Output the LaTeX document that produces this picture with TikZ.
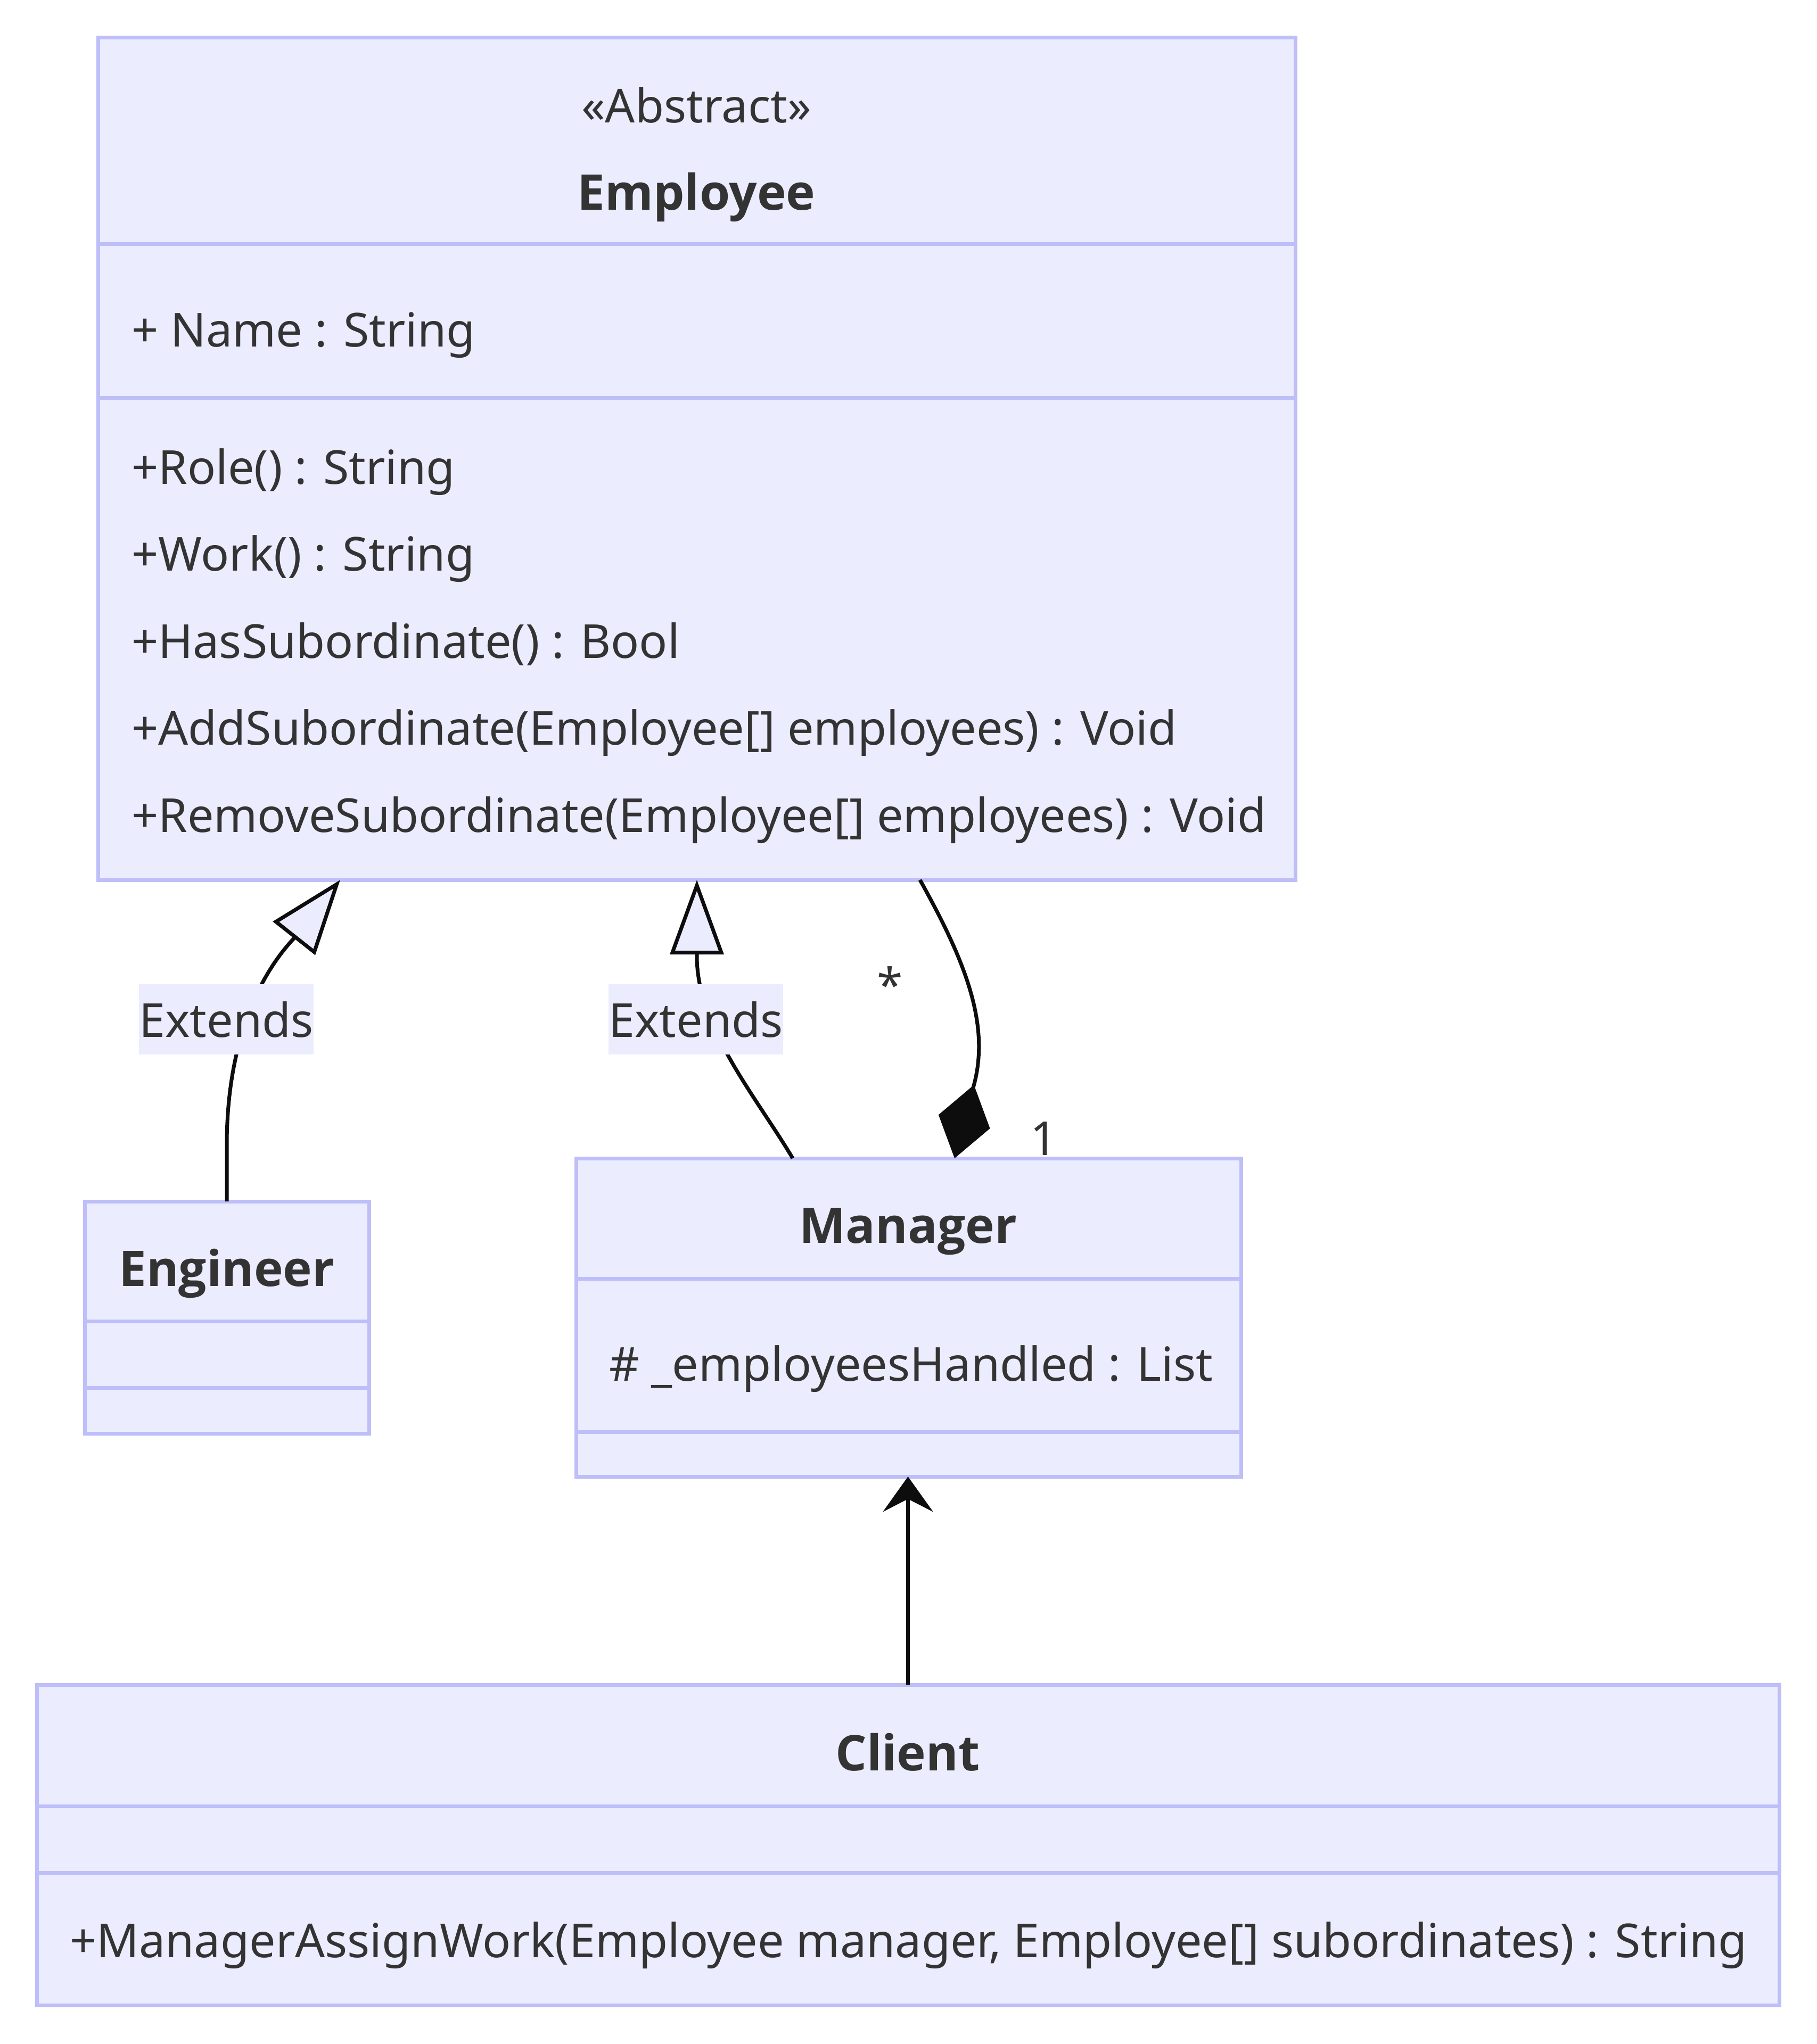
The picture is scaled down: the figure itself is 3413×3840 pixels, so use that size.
\documentclass[tikz,border=0pt]{standalone}
\usepackage{fontspec}
\setmainfont{Noto Sans}
\newfontfamily\titlefont{Open Sans}
\usetikzlibrary{arrows.meta,calc}
\definecolor{lav}{RGB}{236,236,255}
\definecolor{bord}{RGB}{190,190,248}
\definecolor{txt}{RGB}{51,51,51}
\definecolor{ink}{RGB}{13,13,13}
\newcommand{\fs}{\fontsize{17.6pt}{21pt}\selectfont}
\newcommand{\tfs}{\fontsize{18.5pt}{22pt}\selectfont}
\begin{document}
\begin{tikzpicture}[x=0.2pt,y=-0.2pt,font=\fs,text=txt,
  classbox/.style={draw=bord,fill=lav,line width=1.4pt,inner sep=0pt,outer sep=0pt,anchor=north west,rectangle},
  divider/.style={draw=bord,line width=1.4pt},
  member/.style={anchor=base west,inner sep=0pt},
  ctitle/.style={anchor=base,inner sep=0pt,font=\titlefont\tfs\bfseries},
  stereo/.style={anchor=base,inner sep=0pt},
  edge/.style={draw=ink,line width=1.4pt},
  lbl/.style={fill=lav,inner sep=0pt,minimum width=65.6pt,minimum height=26.4pt},
  mult/.style={anchor=base,inner sep=0pt}]
\useasboundingbox[fill=white] (0,0) rectangle (3413,3840);

% class boxes
\node[classbox,minimum width=449.8pt,minimum height=316.6pt] (emp) at (184,70) {};
\node[classbox,minimum width=106.8pt,minimum height=87.2pt] (eng) at (159,2257) {};
\node[classbox,minimum width=249.8pt,minimum height=119.6pt] (man) at (1082,2176) {};
\node[classbox,minimum width=654.6pt,minimum height=120.4pt] (cli) at (69,3165) {};

% dividers
\draw[divider] ($(emp.north west)+(0,388)$) -- ($(emp.north east)+(0,388)$);
\draw[divider] ($(emp.north west)+(0,677)$) -- ($(emp.north east)+(0,677)$);
\draw[divider] ($(eng.north west)+(0,225)$) -- ($(eng.north east)+(0,225)$);
\draw[divider] ($(eng.north west)+(0,350)$) -- ($(eng.north east)+(0,350)$);
\draw[divider] ($(man.north west)+(0,226)$) -- ($(man.north east)+(0,226)$);
\draw[divider] ($(man.north west)+(0,514)$) -- ($(man.north east)+(0,514)$);
\draw[divider] ($(cli.north west)+(0,228)$) -- ($(cli.north east)+(0,228)$);
\draw[divider] ($(cli.north west)+(0,353)$) -- ($(cli.north east)+(0,353)$);

% Employee texts
\node[stereo] (empst) at (1308,230) {«Abstract»};
\node[ctitle] (empt) at (1308,394) {Employee};
\node[member] (empa) at (246,651) {+ Name : String};
\node[member] (empm1) at (246,909) {+Role() : String};
\node[member] (empm2) at (246,1072) {+Work() : String};
\node[member] (empm3) at (246,1236) {+HasSubordinate() : Bool};
\node[member] (empm4) at (246,1399) {+AddSubordinate(Employee[] employees) : Void};
\node[member] (empm5) at (246,1563) {+RemoveSubordinate(Employee[] employees) : Void};

% Engineer
\node[ctitle] (engt) at (426,2416) {Engineer};

% Manager
\node[ctitle] (mant) at (1706,2335) {Manager};
\node[member] (mana) at (1143,2594) {\# \_employeesHandled : List};

% Client
\node[ctitle] (clit) at (1705,3326) {Client};
\node[member] (clim) at (130,3677) {+ManagerAssignWork(Employee manager, Employee[] subordinates) : String};

% connectors
\draw[edge,-{Triangle[length=28pt,width=20pt,fill=lav]}]
  (eng.north) -- (426,2150) .. controls (426,1990) and (470,1850) .. (552,1763)
  -- ($(emp.south west)+(455,0)$);
\draw[edge,-{Triangle[length=28pt,width=20pt,fill=lav]}]
  ($(man.north west)+(407,0)$) .. controls (1420,2060) and (1309,1930) .. (1309,1797)
  -- ($(emp.south west)+(1125,0)$);
\draw[edge,{Diamond[length=28.5pt,width=20pt]}-]
  ($(man.north west)+(711,0)$) -- (1830,2036) .. controls (1860,1920) and (1810,1800) ..
  ($(emp.south west)+(1544,0)$);
\draw[edge,-{Stealth[length=13.2pt,width=18.8pt,inset=4.8pt]}]
  (cli.north) -- (cli.north |- man.south);

% edge labels
\node[lbl] (ext1) at (425,1915) {Extends};
\node[lbl] (ext2) at (1307,1915) {Extends};
\node[mult] (mstar) at (1672,1882) {*};
\node[mult] (mone) at (1961,2170) {1};
\end{tikzpicture}
\end{document}
